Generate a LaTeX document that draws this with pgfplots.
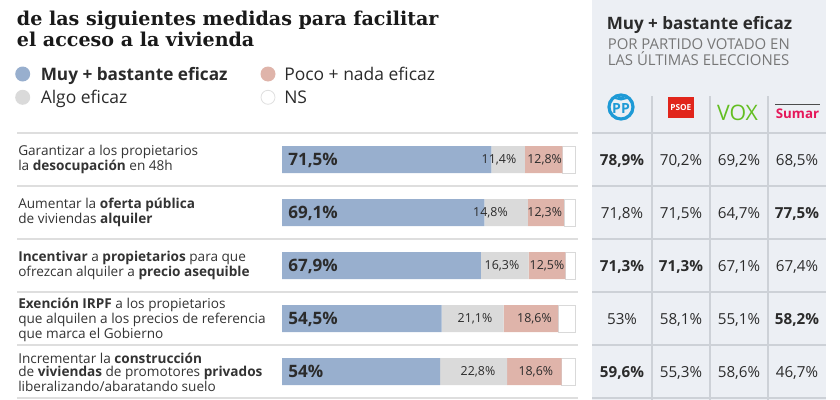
\documentclass[border=0pt]{standalone}
\usepackage{pgfplots}
\pgfplotsset{compat=1.18}
\usepackage{pgfplotstable}
\usepackage{fontspec}
\setmainfont{Open Sans}
\newfontfamily\titlefont{DejaVu Serif}
\definecolor{cblue}{HTML}{98AFCE}
\definecolor{cgray}{HTML}{DADADA}
\definecolor{cred}{HTML}{DFB4AA}
\definecolor{txt}{HTML}{2B2B2B}
\definecolor{lbl}{HTML}{333333}
\definecolor{panel}{HTML}{ECEFF4}
\definecolor{pline}{HTML}{CDD1D7}
\definecolor{sep}{HTML}{DEDEDE}
\definecolor{subgray}{HTML}{777777}
\definecolor{ppblue}{HTML}{1E9AD6}
\definecolor{psoered}{HTML}{E1251B}
\definecolor{voxgreen}{HTML}{63BE21}
\definecolor{sumar}{HTML}{E5175A}
\tikzset{
  big/.style={anchor=west, inner sep=0pt, text depth=0pt, text=txt, font=\bfseries\fontsize{12.8}{14}\selectfont},
  small/.style={inner sep=0pt, text depth=0pt, text=txt, font=\fontsize{9.3}{10}\selectfont},
}

\pgfplotstableread{
row muy algo poco ns
1 71.5 11.4 12.8 4.3
2 69.1 14.8 12.3 3.8
3 67.9 16.3 12.5 3.3
4 54.5 21.1 18.6 5.8
5 54.0 22.8 18.6 4.6
}\datatable

\begin{document}
\begin{tikzpicture}
\useasboundingbox (0,0) rectangle (630pt,-300pt);
\begin{scope}[x=0.75pt,y=-0.75pt]
\clip (0,0) rectangle (840,400);
% title
\node[anchor=base west, inner sep=0pt, font=\titlefont\bfseries\fontsize{14.3}{16}\selectfont, text=black!90] at (16.7,25) {de las siguientes medidas para facilitar};
\node[anchor=base west, inner sep=0pt, font=\titlefont\bfseries\fontsize{14.3}{16}\selectfont, text=black!90] at (16.7,46.7) {el acceso a la vivienda};
% legend
\fill[cblue] (22.7,74) circle (7.5);
\fill[cgray] (22.7,97.3) circle (7.5);
\fill[cred] (268,74) circle (7.5);
\draw[black!12, line width=0.6pt, fill=white] (268,97.3) circle (7);
\node[anchor=west, inner sep=0pt, text depth=0pt, font=\bfseries\fontsize{12.9}{14}\selectfont, text=txt] at (40.5,74) {Muy + bastante eficaz};
\node[anchor=west, inner sep=0pt, text depth=0pt, font=\fontsize{13.1}{14}\selectfont, text=txt] at (40.5,97.3) {Algo eficaz};
\node[anchor=west, inner sep=0pt, text depth=0pt, font=\fontsize{13.1}{14}\selectfont, text=txt] at (284,74) {Poco + nada eficaz};
\node[anchor=west, inner sep=0pt, text depth=0pt, font=\fontsize{13.1}{14}\selectfont, text=txt] at (284,97.3) {NS};
% row separators left
\foreach \yy in {133,186,239,292,345,398} \draw[sep, line width=1.3pt] (17,\yy) -- (578,\yy);
% row labels
\begin{scope}[every node/.style={anchor=west, align=left, inner sep=0pt, text=lbl, font=\fontsize{10.2}{9.9}\selectfont}]
\node at (18,159.5) {Garantizar a los propietarios\\la \textbf{desocupación} en 48h};
\node at (18,212.5) {Aumentar la \textbf{oferta pública}\\de viviendas \textbf{alquiler}};
\node at (18,265.5) {\textbf{Incentivar} a \textbf{propietarios} para que\\ofrezcan alquiler a \textbf{precio asequible}};
\node at (18,319.5) {\textbf{Exención IRPF} a los propietarios\\que alquilen a los precios de referencia\\que marca el Gobierno};
\node at (18,372.5) {Incrementar la \textbf{construcción}\\de \textbf{viviendas} de promotores \textbf{privados}\\liberalizando/abaratando suelo};
\end{scope}
% panel
\fill[panel] (592,0) rectangle (826,400);
\node[anchor=base west, inner sep=0pt, font=\bfseries\fontsize{12.8}{14}\selectfont, text=txt] at (606.5,29) {Muy + bastante eficaz};
\node[anchor=base west, inner sep=0pt, font=\fontsize{11.2}{11.5}\selectfont, text=subgray] at (607.5,49.5) {POR PARTIDO VOTADO EN};
\node[anchor=base west, inner sep=0pt, font=\fontsize{11.2}{11.5}\selectfont, text=subgray] at (607.5,65.5) {LAS ÚLTIMAS ELECCIONES};
% panel grid
\foreach \yy in {133,186,239,292,345,398} \draw[pline, line width=0.8pt] (592,\yy) -- (826,\yy);
\foreach \xx in {652,710,768} \draw[pline, line width=0.8pt] (\xx,96) -- (\xx,400);
% logos
\draw[ppblue, line width=2.4pt] (621,107) circle (12);
\node[font=\bfseries\fontsize{10.5}{10}\selectfont, text=ppblue, inner sep=0pt, text depth=0pt] at (621,108.5) {PP};
\fill[ppblue] (613,98.5) .. controls (617,96.5) and (625,96.5) .. (629,98.5) -- (621,100.5) -- cycle;
\fill[psoered] (667.7,96.7) rectangle (694,118.3);
\node[font=\bfseries\fontsize{6.2}{6}\selectfont, text=white, inner sep=0pt, text depth=0pt] at (680.8,108) {PSOE};
\node[font=\fontsize{16}{16}\selectfont, text=voxgreen, inner sep=0pt, text depth=0pt] at (737.5,113) {VOX};
\draw[black!70, line width=1pt] (775,104.5) -- (820,104.5);
\node[font=\bfseries\fontsize{10}{11}\selectfont, text=sumar, inner sep=0pt, text depth=0pt] at (797.5,113.5) {Sumar};
% table values
\begin{scope}[every node/.style={inner sep=0pt, text depth=0pt, text=txt, font=\fontsize{11.4}{12}\selectfont}]
\node at (622,159.5) {\textbf{78,9\%}}; \node at (681,159.5) {70,2\%}; \node at (739,159.5) {69,2\%}; \node at (797,159.5) {68,5\%};
\node at (622,212.5) {71,8\%}; \node at (681,212.5) {71,5\%}; \node at (739,212.5) {64,7\%}; \node at (797,212.5) {\textbf{77,5\%}};
\node at (622,265.5) {\textbf{71,3\%}}; \node at (681,265.5) {\textbf{71,3\%}}; \node at (739,265.5) {67,1\%}; \node at (797,265.5) {67,4\%};
\node at (622,318.5) {53\%}; \node at (681,318.5) {58,1\%}; \node at (739,318.5) {55,1\%}; \node at (797,318.5) {\textbf{58,2\%}};
\node at (622,371.5) {\textbf{59,6\%}}; \node at (681,371.5) {55,3\%}; \node at (739,371.5) {58,6\%}; \node at (797,371.5) {46,7\%};
\end{scope}
\end{scope}
\begin{axis}[at={(211.5pt,-99.75pt)}, anchor=north west, scale only axis,
  width=219.75pt, height=198.75pt, xmin=0, xmax=100, ymin=0.5, ymax=5.5,
  y dir=reverse, hide axis, xbar stacked, bar width=20.25pt, clip=false]
\addplot[fill=cblue, draw=none] table[x=muy, y=row] {\datatable};
\addplot[fill=cgray, draw=none] table[x=algo, y=row] {\datatable};
\addplot[fill=cred, draw=none] table[x=poco, y=row] {\datatable};
\addplot[fill=white, draw=black!15, line width=0.5pt] table[x=ns, y=row] {\datatable};
\end{axis}
% bar value labels (x in px: 282 + 2.93*percent)
\begin{scope}[x=0.75pt,y=-0.75pt]
\node[big] at (288,159.5) {71,5\%};
\node[big] at (288,212.5) {69,1\%};
\node[big] at (288,265.5) {67,9\%};
\node[big] at (288,318.5) {54,5\%};
\node[big] at (288,371.5) {54\%};
\node[small] at (499,159.5) {11,4\%};
\node[small] at (544.6,159.5) {12,8\%};
\node[small] at (490.5,212.5) {14,8\%};
\node[small] at (544.7,212.5) {12,3\%};
\node[small] at (502,265.5) {16,3\%};
\node[small] at (547,265.5) {12,5\%};
\node[small] at (475,318.5) {21,1\%};
\node[small] at (534.5,318.5) {18,6\%};
\node[small] at (478,371.5) {22,8\%};
\node[small] at (535.8,371.5) {18,6\%};
\end{scope}
\end{tikzpicture}
\end{document}
